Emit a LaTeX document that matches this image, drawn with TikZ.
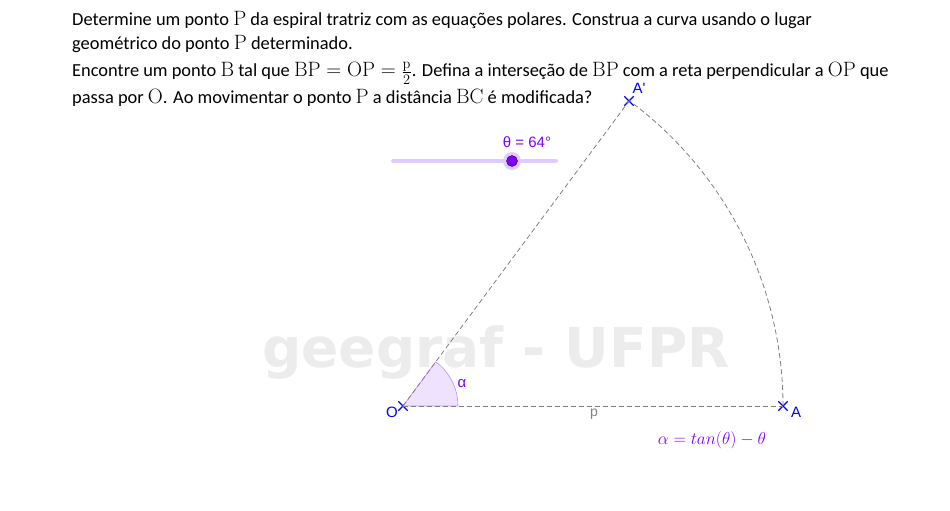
\documentclass[tikz,border=0pt]{standalone}
\usepackage[no-math]{fontspec}
\setmainfont{Carlito}
\newfontfamily\labelfont{Liberation Sans}
\newfontfamily\markfont{DejaVu Sans}
\usetikzlibrary{shapes.misc}
\definecolor{ggblue}{RGB}{0,0,255}
\definecolor{ggviolet}{RGB}{127,0,255}
\definecolor{anglefill}{RGB}{238,226,255}
\definecolor{sliderline}{RGB}{222,204,255}
\definecolor{guidegray}{RGB}{128,128,128}
\definecolor{markgray}{RGB}{236,236,236}
\newcommand{\mv}[1]{\mbox{\fontsize{19.5}{21}\selectfont$\mathrm{#1}$}}

\begin{document}
\begin{tikzpicture}[
    x=1pt, y=-1pt,
    statement/.style={anchor=base west, inner sep=0pt, font=\fontsize{18.4}{21}\selectfont},
    guide/.style={draw=guidegray, dash pattern=on 5pt off 3pt, line width=0.8pt},
    ptmark/.style={cross out, draw=ggblue, line width=1.3pt, minimum size=8pt, inner sep=0pt},
    ptlabel/.style={text=ggblue, font=\labelfont\fontsize{15}{15}\selectfont, inner sep=0pt}
]
    \useasboundingbox (0,0) rectangle (950,511);

    % Statement
    \node[statement] (line1) at (72,26) {Determine um ponto \mv{P} da espiral tratriz com as equações polares. Construa a curva usando o lugar};
    \node[statement] (line2) at (72,50) {geométrico do ponto \mv{P} determinado.};
    \node[statement] (line3) at (72,77) {Encontre um ponto \mv{B} tal que \mv{\thickmuskip=3mu BP=OP=\frac{p}{2}}. Defina a interseção de \mv{BP} com a reta perpendicular a \mv{OP} que};
    \node[statement] (line4) at (72,103) {passa por \mv{O}. Ao movimentar o ponto \mv{P} a distância \mv{BC} é modificada?};

    % Watermark
    \node[anchor=base, text=markgray, inner sep=0pt, font=\markfont\bfseries\fontsize{55}{55}\selectfont] (mark) at (496,367) {geegraf - UFPR};

    % Slider
    \draw[sliderline, line width=4pt, line cap=round] (393,161) -- (556,161);
    \fill[sliderline] (512,161) circle (9);
    \node[circle, draw=black!70!ggviolet, fill=ggviolet, minimum size=11pt, inner sep=0pt] (knob) at (512,161) {};
    \node[text=ggviolet, font=\labelfont\fontsize{15}{15}\selectfont] (theta) at (527,142) {θ = 64°};

    % Points
    \node[ptmark] (O) at (403,406) {};
    \node[ptmark] (A) at (783,406) {};
    \node[ptmark] (A') at (629,101) {};

    % Angle alpha
    \filldraw[fill=anglefill, draw=ggviolet!45, line width=0.6pt] (O.center) -- ++(55,0) arc[start angle=0, end angle=-53.5, radius=55] -- cycle;

    % Guides
    \draw[guide] (O.center) -- (A.center);
    \draw[guide] (O.center) -- (A'.center);
    \draw[guide] (A.center) arc[start angle=0, end angle=-53.5, radius=380];

    % Labels
    \node[ptlabel] (Olab) at (392,412) {O};
    \node[ptlabel] (Alab) at (796,412) {A};
    \node[ptlabel] (A'lab) at (639,88) {A'};
    \node[text=guidegray, font=\labelfont\fontsize{14}{14}\selectfont, inner sep=0pt] (plab) at (594,414) {p};
    \node[text=ggviolet, font=\labelfont\fontsize{15}{15}\selectfont, inner sep=0pt] (alab) at (462,384) {α};
    \node[text=ggviolet, font=\fontsize{17}{17}\selectfont, inner sep=0pt] (law) at (712,440) {$\alpha = tan(\theta) - \theta$};
\end{tikzpicture}
\end{document}
